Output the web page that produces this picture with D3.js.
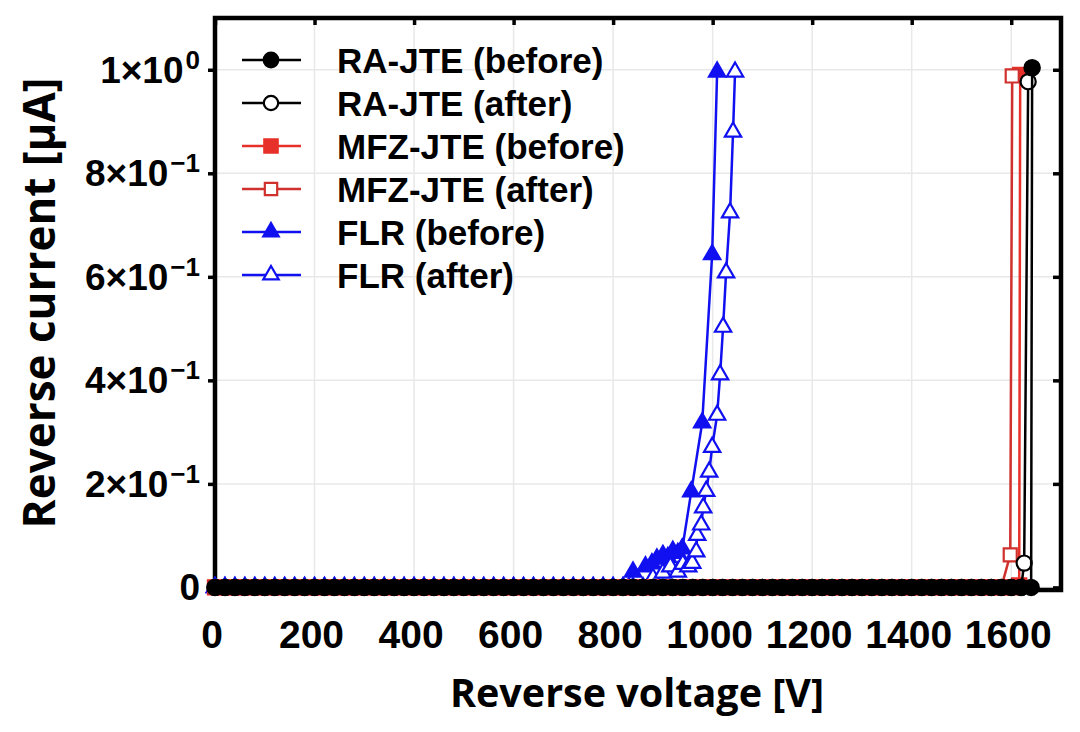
<!DOCTYPE html>
<html>
<head>
<meta charset="utf-8">
<script src="https://d3js.org/d3.v7.min.js"></script>
<style>
body { margin: 0; background: #fff; }
</style>
</head>
<body>
<div id="chart"></div>
<script>
// voltage sweep where every device still sits at ~0 uA
var sweepV = [0, 20, 40, 60, 80, 100, 120, 140, 160, 180, 200, 220, 240, 260, 280, 300,
	320, 340, 360, 380, 400, 420, 440, 460, 480, 500, 520, 540, 560, 580, 600, 620, 640,
	660, 680, 700, 720, 740, 760, 780, 800, 820, 840, 860, 880, 900, 920, 940, 960, 980,
	1000, 1020, 1040, 1060, 1080, 1100, 1120, 1140, 1160, 1180, 1200, 1220, 1240, 1260,
	1280, 1300, 1320, 1340, 1360, 1380, 1400, 1420, 1440, 1460, 1480, 1500, 1520, 1540,
	1560, 1580, 1600, 1620, 1640];

// points where the current leaves zero (V, uA)
var raBeforeV = [1642];
var raBeforeI = [1.004];
var raAfterV = [1626, 1634];
var raAfterI = [0.047, 0.977];
var mfzBeforeV = [1616, 1618];
var mfzBeforeI = [0.004, 0.99];
var mfzAfterV = [1598, 1602];
var mfzAfterI = [0.063, 0.988];
var flrBeforeV = [840, 865, 878, 888, 900, 910, 920, 930, 939, 957, 979, 999, 1009];
var flrBeforeI = [0.030, 0.040, 0.046, 0.055, 0.062, 0.058, 0.070, 0.066, 0.075, 0.185, 0.318, 0.643, 0.996];
var flrAfterV = [880, 900, 915, 930, 940, 951, 959, 967, 969, 977, 981, 987, 993, 999, 1009, 1015, 1021, 1027, 1035, 1041, 1045];
var flrAfterI = [0.018, 0.028, 0.040, 0.030, 0.045, 0.040, 0.047, 0.069, 0.101, 0.121, 0.154, 0.186, 0.223, 0.271, 0.333, 0.411, 0.503, 0.608, 0.724, 0.880, 0.996];

// legend names and ticks
var names = ["RA-JTE (before)", "RA-JTE (after)", "MFZ-JTE (before)", "MFZ-JTE (after)", "FLR (before)", "FLR (after)"];
var xTicks = [0, 200, 400, 600, 800, 1000, 1200, 1400, 1600];
var yTicks = [0, 0.2, 0.4, 0.6, 0.8, 1.0];
var yTickBase = ["0", "2×10", "4×10", "6×10", "8×10", "1×10"];
var yTickExp = ["", "−1", "−1", "−1", "−1", "0"];

// style of each series, same order as names
var colors = ["#000000", "#000000", "#e8302a", "#d0312d", "#1010f0", "#1010f0"];
var shapes = [d3.symbolCircle, d3.symbolCircle, d3.symbolSquare, d3.symbolSquare, d3.symbolTriangle, d3.symbolTriangle];
var sizes = [185, 180, 200, 170, 115, 115];
var filled = [true, false, true, false, true, false];

function build(tailV, tailI){
	//zero points of the sweep up to the first tail point, then the tail
	var pts = [];
	sweepV.forEach(function(v){ if (v < tailV[0]) pts.push({v: v, i: 0}); });
	for (var k = 0; k < tailV.length; k++) pts.push({v: tailV[k], i: tailI[k]});
	return pts;
}

var series = [
	build(raBeforeV, raBeforeI),
	build(raAfterV, raAfterI),
	build(mfzBeforeV, mfzBeforeI),
	build(mfzAfterV, mfzAfterI),
	build(flrBeforeV, flrBeforeI),
	build(flrAfterV, flrAfterI)
];

var width = 1080, height = 732;
var margin = { top: 18, right: 19, bottom: 142, left: 215 };

var svg = d3.select("#chart").append("svg")
	.attr("width", width)
	.attr("height", height);

var xScale = d3.scaleLinear().domain([0, 1700]).range([margin.left, width - margin.right]);
var yScale = d3.scaleLinear().domain([-0.005, 1.1]).range([height - margin.bottom, margin.top]);

var x0 = margin.left, x1 = width - margin.right;
var y0 = height - margin.bottom, y1 = margin.top;

//faint grid
var grid = svg.append("g").attr("stroke", "#e8e8e8").attr("stroke-width", 1.5);
xTicks.forEach(function(t){
	grid.append("line").attr("x1", xScale(t)).attr("x2", xScale(t)).attr("y1", y1).attr("y2", y0);
});
yTicks.forEach(function(t){
	grid.append("line").attr("x1", x0).attr("x2", x1).attr("y1", yScale(t)).attr("y2", yScale(t));
});

//axes: left/bottom ticks outside, top/right ticks inside
var tickStyle = function(g){
	g.select(".domain").remove();
	g.selectAll(".tick line").attr("stroke", "#000").attr("stroke-width", 3.5);
	g.selectAll(".tick text").remove();
};
svg.append("g").attr("transform", "translate(0," + y0 + ")")
	.call(d3.axisBottom(xScale).tickValues(xTicks).tickSizeInner(6)).call(tickStyle);
svg.append("g").attr("transform", "translate(0," + y1 + ")")
	.call(d3.axisTop(xScale).tickValues(xTicks).tickSizeInner(-7)).call(tickStyle);
svg.append("g").attr("transform", "translate(" + x0 + ",0)")
	.call(d3.axisLeft(yScale).tickValues(yTicks).tickSizeInner(7)).call(tickStyle);
svg.append("g").attr("transform", "translate(" + x1 + ",0)")
	.call(d3.axisRight(yScale).tickValues(yTicks).tickSizeInner(-8)).call(tickStyle);

//frame
svg.append("rect")
	.attr("x", x0).attr("y", y1)
	.attr("width", x1 - x0).attr("height", y0 - y1)
	.attr("fill", "none").attr("stroke", "#000").attr("stroke-width", 4.5);

//x tick labels
svg.append("g").selectAll("text")
	.data(xTicks).enter().append("text")
	.attr("x", function(d){ return xScale(d) - 3; })
	.attr("y", 648)
	.attr("text-anchor", "middle")
	.style("font-family", "'Liberation Sans', Arial, sans-serif")
	.style("font-weight", "bold")
	.style("font-size", "39px")
	.text(function(d){ return d; });

//y tick labels with superscript exponent
var yl = svg.append("g").selectAll("text")
	.data(yTicks).enter().append("text")
	.attr("x", 200)
	.attr("y", function(d){ return yScale(d) + 13; })
	.attr("text-anchor", "end")
	.style("font-family", "'Liberation Sans', Arial, sans-serif")
	.style("font-weight", "bold")
	.style("font-size", "37px");
yl.append("tspan").text(function(d, i){ return yTickBase[i]; });
yl.append("tspan")
	.attr("dx", 2)
	.attr("dy", -14)
	.style("font-size", "26px")
	.text(function(d, i){ return yTickExp[i]; });

//lines and markers, blue first so the black filled circles end on top
var line = d3.line()
	.x(function(d){ return xScale(d.v); })
	.y(function(d){ return yScale(d.i); });

var order = [4, 5, 2, 3, 1, 0];
order.forEach(function(s){
	var g = svg.append("g");
	g.append("path")
		.datum(series[s])
		.attr("d", line)
		.attr("fill", "none")
		.attr("stroke", colors[s])
		.attr("stroke-width", 2.5);
	g.selectAll("path.mk")
		.data(series[s]).enter().append("path")
		.attr("class", "mk")
		.attr("transform", function(d){ return "translate(" + xScale(d.v) + "," + yScale(d.i) + ")"; })
		.attr("d", d3.symbol().type(shapes[s]).size(sizes[s]))
		.attr("fill", filled[s] ? colors[s] : "#fff")
		.attr("stroke", colors[s])
		.attr("stroke-width", 2.2);
});

//legend
for (var i = 0; i < names.length; i++){
	var ly = 60 + 43 * i;
	svg.append("line")
		.attr("x1", 242).attr("x2", 301)
		.attr("y1", ly).attr("y2", ly)
		.attr("stroke", colors[i]).attr("stroke-width", 2.5);
	svg.append("path")
		.attr("transform", "translate(271," + ly + ")")
		.attr("d", d3.symbol().type(shapes[i]).size(sizes[i] * 0.9))
		.attr("fill", filled[i] ? colors[i] : "#fff")
		.attr("stroke", colors[i])
		.attr("stroke-width", 2.2);
	svg.append("text")
		.attr("x", 337)
		.attr("y", ly)
		.attr("dy", ".36em")
		.style("font-family", "'Liberation Sans', Arial, sans-serif")
		.style("font-weight", "bold")
		.style("font-size", "35px")
		.text(names[i]);
}

//axis titles
svg.append("text")
	.attr("x", 637)
	.attr("y", 707)
	.attr("text-anchor", "middle")
	.style("font-family", "'Open Sans', sans-serif")
	.style("font-weight", "bold")
	.style("font-size", "39.5px")
	.text("Reverse voltage [V]");

svg.append("text")
	.attr("transform", "translate(55,303) rotate(-90)")
	.attr("text-anchor", "middle")
	.style("font-family", "'Open Sans', sans-serif")
	.style("font-weight", "bold")
	.style("font-size", "44px")
	.text("Reverse current [μA]");
</script>
</body>
</html>
